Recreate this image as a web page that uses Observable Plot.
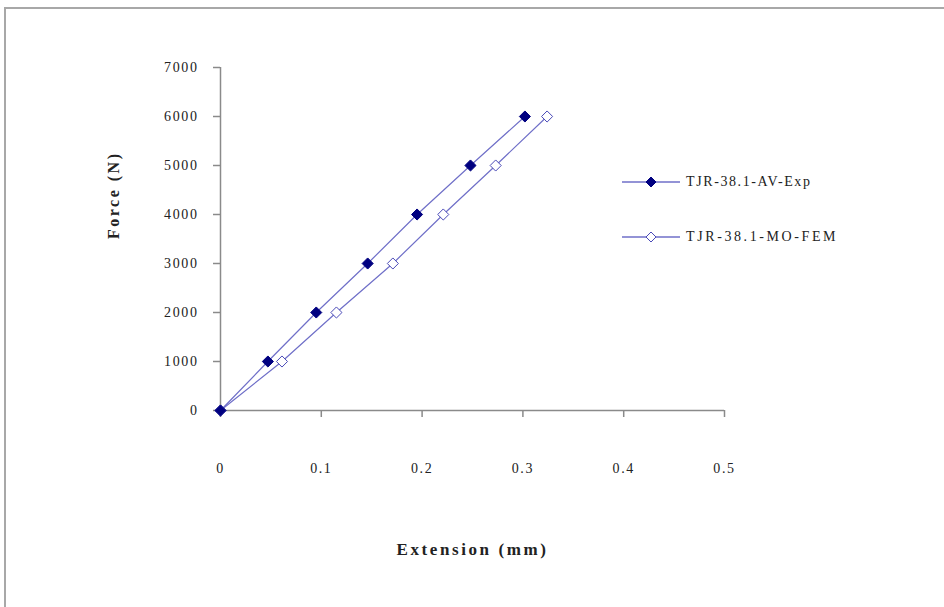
<!DOCTYPE html>
<html><head><meta charset="utf-8">
<script src="https://cdn.jsdelivr.net/npm/d3@7"></script>
<script src="https://cdn.jsdelivr.net/npm/@observablehq/plot@0.6"></script>
<style>
body{margin:0;background:#fff;}
#wrap{position:relative;width:944px;height:607px;overflow:hidden;background:#fff;}
#frame{position:absolute;left:4px;top:7px;width:1000px;height:700px;border-left:2px solid #a8a8a8;border-top:2px solid #a8a8a8;box-sizing:border-box;}
#chart{position:absolute;left:0;top:0;}
#chart svg{font-family:"Liberation Serif",serif;}
#chart g[aria-label="x-axis tick label"] text,#chart g[aria-label="y-axis tick label"] text{letter-spacing:1.6px;}
#legend{position:absolute;left:622px;top:172px;font-family:"Liberation Serif",serif;font-size:14px;color:#222;letter-spacing:1.6px;}
#legend .row{display:flex;align-items:center;height:20px;margin-bottom:35px;}
#legend .row:nth-child(2) span{letter-spacing:2.6px;}
#legend svg{margin-right:6px;}
</style></head>
<body>
<div id="wrap"><div id="frame"></div><div id="chart"></div><div id="legend"></div></div>
<script>
const seriesNames = ["TJR-38.1-AV-Exp", "TJR-38.1-MO-FEM"];
const forceN = [0, 1000, 2000, 3000, 4000, 5000, 6000];
const expExtension = [0, 0.047, 0.095, 0.146, 0.195, 0.248, 0.302];
const femExtension = [0, 0.061, 0.115, 0.171, 0.221, 0.273, 0.324];
const xTicks = [0, 0.1, 0.2, 0.3, 0.4, 0.5];
const yTicks = [0, 1000, 2000, 3000, 4000, 5000, 6000, 7000];
const xTitle = "Extension (mm)";
const yTitle = "Force (N)";

const lineColor = "#6f6fc8";
const exp = expExtension.map((e, i) => ({ext: e, force: forceN[i]}));
const fem = femExtension.map((e, i) => ({ext: e, force: forceN[i]}));

const chart = Plot.plot({
  width: 944, height: 607,
  marginLeft: 220, marginRight: 220, marginTop: 67, marginBottom: 197,
  style: {fontFamily: "Liberation Serif", fontSize: "14px", background: "transparent"},
  x: {domain: [0, 0.5], label: null},
  y: {domain: [0, 7000], label: null},
  marks: [
    Plot.axisY(yTicks, {tickSize: 7, tickPadding: 15, stroke: "#8a8a8a", strokeWidth: 1.5, fill: "#222",
      tickFormat: d => String(d), label: null}),
    Plot.axisX(xTicks, {tickSize: 7, tickPadding: 46, stroke: "#8a8a8a", strokeWidth: 1.5, fill: "#222",
      tickFormat: d => String(d), label: null}),
    Plot.text([xTitle], {text: d => d, frameAnchor: "bottom", dy: 144, fontWeight: "bold", fontSize: 17, fill: "#222"}),
    Plot.text([yTitle], {text: d => d, frameAnchor: "left", dx: -107, rotate: -90, fontWeight: "bold", fontSize: 16, fill: "#222"}),
    Plot.ruleX([0], {stroke: "#8a8a8a", strokeWidth: 1.5}),
    Plot.ruleY([0], {stroke: "#8a8a8a", strokeWidth: 1.5}),
    Plot.line(exp, {x: "ext", y: "force", stroke: lineColor, strokeWidth: 1.2}),
    Plot.line(fem, {x: "ext", y: "force", stroke: lineColor, strokeWidth: 1.2}),
    Plot.dot(fem, {x: "ext", y: "force", symbol: "diamond2", r: 5, fill: "white", stroke: "#4a4ab8", strokeWidth: 1}),
    Plot.dot(exp, {x: "ext", y: "force", symbol: "diamond2", r: 5, fill: "#000080", stroke: "#000080", strokeWidth: 1})
  ]
});
document.getElementById("chart").appendChild(chart);
chart.querySelectorAll("text").forEach(t => {
  if (t.textContent === xTitle) t.style.letterSpacing = "2.6px";
  if (t.textContent === yTitle) t.style.letterSpacing = "2.5px";
});

const legend = document.getElementById("legend");
seriesNames.forEach((name, i) => {
  const row = document.createElement("div");
  row.className = "row";
  const fill = i === 0 ? "#000080" : "white";
  const stroke = i === 0 ? "#000080" : "#4a4ab8";
  row.innerHTML = `<svg width="58" height="14"><line x1="0" y1="7" x2="58" y2="7" stroke="${lineColor}" stroke-width="1.5"/>` +
    `<path d="M29,2L34,7L29,12L24,7Z" fill="${fill}" stroke="${stroke}"/></svg><span>${name}</span>`;
  legend.appendChild(row);
});
</script>
</body></html>
